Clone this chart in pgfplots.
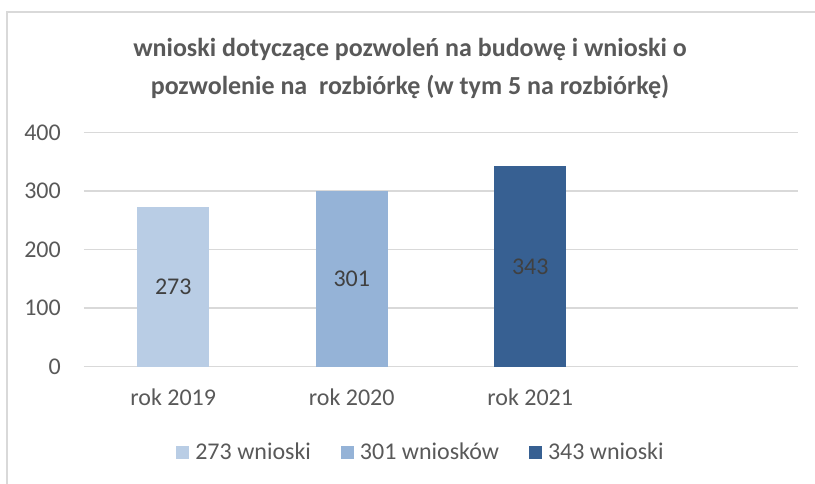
\documentclass[border=0pt]{standalone}
\usepackage{fontspec}
\setmainfont{Carlito}
\usepackage{pgfplots}
\pgfplotsset{compat=1.18}
\definecolor{txt}{HTML}{595959}
\definecolor{grd}{HTML}{D9D9D9}
\definecolor{bA}{HTML}{B9CDE5}
\definecolor{bB}{HTML}{95B3D7}
\definecolor{bC}{HTML}{376092}
\definecolor{lbl}{HTML}{404040}
\begin{document}
\begin{tikzpicture}[x=1pt,y=1pt]
\path[use as bounding box] (0,0) rectangle (815,484);
% chart frame (cut off at right and bottom)
\draw[grd,line width=1.5pt] (7,0) -- (7,472) -- (815,472);
\begin{axis}[
  at={(84pt,117.3pt)}, anchor=south west,
  scale only axis, width=714pt, height=234pt,
  ybar, bar width=72pt,
  xmin=-0.5, xmax=3.5, ymin=0, ymax=400,
  xtick={0,1,2}, xticklabels={rok 2019,rok 2020,rok 2021},
  ytick={0,100,200,300,400},
  axis line style={draw=none},
  ymajorgrids, grid style={grd,line width=1.5pt},
  major tick length=0pt,
  tick label style={font=\fontsize{24}{24}\selectfont,text=txt},
  /pgf/number format/assume math mode=true,
  yticklabel style={anchor=east,inner sep=0pt,xshift=-23pt},
  xticklabel style={anchor=center,inner sep=0pt,yshift=-31pt},
  title={wnioski dotyczące pozwoleń na budowę i wnioski o\\pozwolenie na \ rozbiórkę (w tym 5 na rozbiórkę)},
  title style={at={(0.4566,1.248)},anchor=center,align=center,
    font=\fontsize{26}{38}\selectfont\bfseries,text=txt},
  legend columns=3,
  legend style={draw=none,fill=none,at={(0.472,-0.365)},anchor=center,
    font=\fontsize{24}{24}\selectfont,text=txt,
    /tikz/every odd column/.append style={column sep=4pt},
    /tikz/every even column/.append style={column sep=28pt}},
  legend image code/.code={\fill[#1] (0pt,-6.5pt) rectangle (13pt,6.5pt);},
  nodes near coords,
  visualization depends on=rawy \as \rawy,
  every node near coord/.append style={anchor=center,yshift={-0.2925*\rawy*1pt},
    font=\fontsize{24}{24}\selectfont,text=lbl},
]
\addplot[fill=bA,draw=none,bar shift=0pt] coordinates {(0,273)};
\addplot[fill=bB,draw=none,bar shift=0pt] coordinates {(1,301)};
\addplot[fill=bC,draw=none,bar shift=0pt] coordinates {(2,343)};
\legend{273 wnioski,301 wniosków,343 wnioski}
\end{axis}
\end{tikzpicture}
\end{document}
